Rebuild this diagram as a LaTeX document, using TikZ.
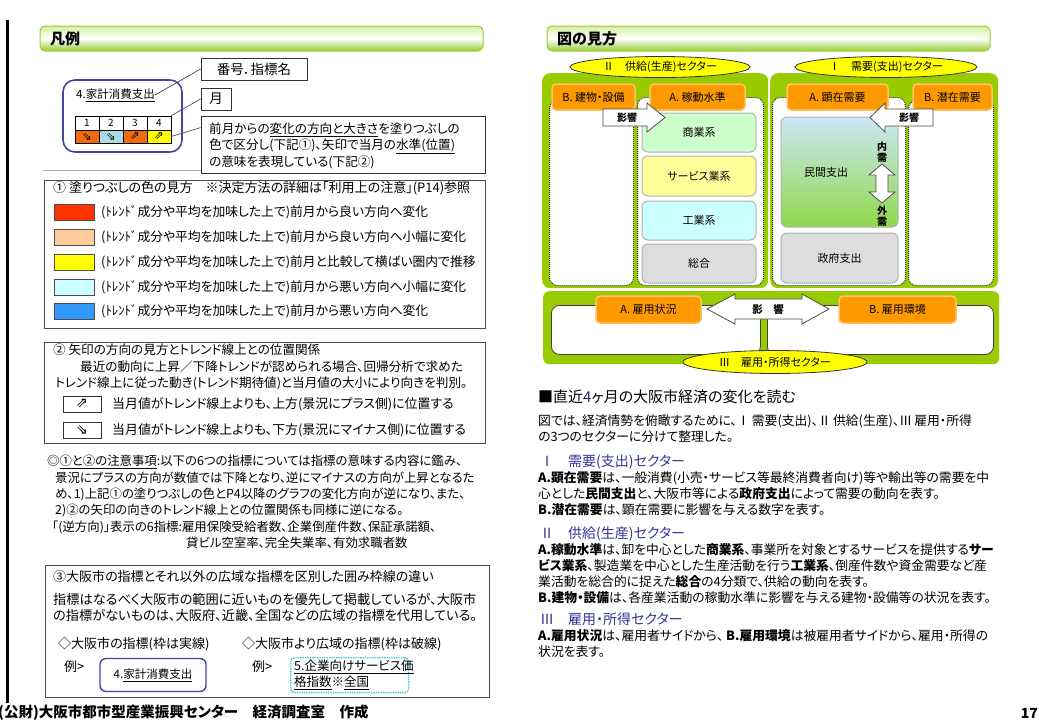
\documentclass[tikz,border=0pt]{standalone}
\usepackage{fontspec}
\setmainfont[RawFeature=+palt]{Noto Sans CJK JP}
\newfontfamily\dv{DejaVu Sans}
\usetikzlibrary{calc,shapes.geometric}
\newcommand\fsz[1]{\fontsize{#1}{#1}\selectfont}
\definecolor{grn}{HTML}{99CC00}
\definecolor{org}{HTML}{FF9900}
\definecolor{orgb}{HTML}{FFC266}
\definecolor{yel}{HTML}{FFFF00}
\definecolor{hdrtop}{HTML}{D6EEA0}
\definecolor{hdrbot}{HTML}{99CC33}
\definecolor{indigo}{HTML}{4446A6}
\definecolor{cya}{HTML}{33CCCC}
\definecolor{hblue}{HTML}{33339A}
\definecolor{s1}{HTML}{FF3300}
\definecolor{s2}{HTML}{FFCC99}
\definecolor{s3}{HTML}{FFFF00}
\definecolor{s4}{HTML}{CCFFFF}
\definecolor{s5}{HTML}{3399FF}
\definecolor{c1}{HTML}{F26A10}
\definecolor{c2}{HTML}{ADD8E6}
\definecolor{gry}{HTML}{DDDDDD}
\definecolor{lg}{HTML}{CCFFCC}
\definecolor{ly}{HTML}{FFFF99}
\definecolor{lc}{HTML}{CCFFFF}
\definecolor{mtop}{HTML}{CCE6F7}
\definecolor{mbot}{HTML}{8FD94A}
\begin{document}
\begin{tikzpicture}[x=1pt,y=-1pt,
  t/.style={anchor=west,inner sep=0pt,font=\fsz{12.8}},
  tc/.style={inner sep=0pt,font=\fsz{12}},
  hdr/.style={draw=hdrbot,line width=1pt,rounded corners=5pt,top color=hdrtop,bottom color=hdrbot,middle color=white},
  lbox/.style={draw=black!80,line width=0.8pt,fill=white,inner sep=0pt},
  frame/.style={draw=black!70,line width=0.8pt,inner sep=0pt,anchor=north west},
  conn/.style={draw=black!70,line width=0.7pt},
  cell/.style={draw=black,line width=0.6pt,inner sep=0pt,minimum width=24pt,font=\fsz{10}},
  sw/.style={draw=black!70,line width=0.7pt,inner sep=0pt,minimum width=40pt,minimum height=16pt},
  gbig/.style={fill=grn,rounded corners=8pt,inner sep=0pt,anchor=north west},
  wdot/.style={fill=white,draw=black!80,densely dotted,line width=1pt,rounded corners=8pt,inner sep=0pt,anchor=north west},
  wsol/.style={fill=white,draw=black!75,line width=0.8pt,rounded corners=8pt,inner sep=0pt,anchor=north west},
  obox/.style={fill=org,draw=orgb,line width=1.5pt,rounded corners=4pt,inner sep=0pt,font=\fsz{11}},
  ibox/.style={draw=black!30,line width=1pt,rounded corners=6pt,inner sep=0pt,minimum width=114pt,font=\fsz{11}},
  ell/.style={ellipse,fill=yel,draw=black!80,line width=0.8pt,inner sep=0pt,font=\fsz{11}},
  arr/.style={fill=white,draw=black!70,line width=0.8pt},
  body/.style={anchor=west,inner sep=0pt,font=\fsz{12.8}},
  bhead/.style={anchor=west,inner sep=0pt,font=\fsz{14},text=hblue}
]
\useasboundingbox (0,0) rectangle (1039,721);
\fill[white] (0,0) rectangle (1039,721);
\draw[line width=3pt] (7,20) -- (7,703);

% ---------------- left page ----------------
\draw[hdr] (40,26) rectangle (483,51);
\node[t,font=\fsz{15}\bfseries] (hl) at (50,38.5) {凡例};

\draw[black!35,line width=1pt] (43,170) -- (485,170);

\node[draw=indigo,line width=1.6pt,rounded corners=12pt,minimum width=119pt,minimum height=72pt,inner sep=0pt] (sample) at (122.5,116) {};
\node[t,font=\fsz{11.5}] (stitle) at (76,95) {4.\underline{家計消費支出}};
\node[cell,minimum height=14pt] (n1) at (87,123) {1};
\node[cell,minimum height=14pt] (n2) at (111,123) {2};
\node[cell,minimum height=14pt] (n3) at (135,123) {3};
\node[cell,minimum height=14pt] (n4) at (159,123) {4};
\node[cell,minimum height=13pt,fill=c1] (d1) at (87,136.5) {\dv\fsz{11.5}⇘};
\node[cell,minimum height=13pt,fill=c2] (d2) at (111,136.5) {\dv\fsz{11.5}⇘};
\node[cell,minimum height=13pt,fill=c1] (d3) at (135,136.5) {\dv\fsz{11.5}⇗};
\node[cell,minimum height=13pt,fill=yel] (d4) at (159,136.5) {\dv\fsz{11.5}⇗};

\node[lbox,minimum width=106pt,minimum height=22pt,font=\fsz{13.5}] (bango) at (254,69) {番号．指標名};
\node[lbox,minimum width=30pt,minimum height=22pt,font=\fsz{13.5}] (tsuki) at (216,99) {月};
\node[lbox,minimum width=284pt,minimum height=57pt] (desc) at (343,144.5) {};
\node[t,font=\fsz{12.6}] (dl1) at (209,130) {前月からの\underline{変化の方向と大きさ}を塗りつぶしの};
\node[t,font=\fsz{12.6}] (dl2) at (209,146) {色で区分し(下記①)、矢印で当月の\underline{水準(位置)}};
\node[t,font=\fsz{12.6}] (dl3) at (209,162) {の意味を表現している(下記②)};
\draw[conn] (stitle.east) -- (bango.west);
\draw[conn] (n4.north east) -- (tsuki.west);
\draw[conn] (d4.east) -- ([yshift=-12pt]desc.north west);

% box 1
\node[frame,minimum width=441pt,minimum height=148pt] (box1) at (44,180) {};
\node[t,font=\fsz{13}] (b1t) at (53,188) {① 塗りつぶしの色の見方　※決定方法の詳細は「利用上の注意」(P14)参照};
\node[sw,fill=s1] (sw1) at (74,212) {};
\node[sw,fill=s2] (sw2) at (74,237) {};
\node[sw,fill=s3] (sw3) at (74,262) {};
\node[sw,fill=s4] (sw4) at (74,287) {};
\node[sw,fill=s5] (sw5) at (74,311) {};
\node[t] (sl1) at (101,212) {(ﾄﾚﾝﾄﾞ成分や平均を加味した上で)前月から良い方向へ変化};
\node[t] (sl2) at (101,237) {(ﾄﾚﾝﾄﾞ成分や平均を加味した上で)前月から良い方向へ小幅に変化};
\node[t] (sl3) at (101,262) {(ﾄﾚﾝﾄﾞ成分や平均を加味した上で)前月と比較して横ばい圏内で推移};
\node[t] (sl4) at (101,287) {(ﾄﾚﾝﾄﾞ成分や平均を加味した上で)前月から悪い方向へ小幅に変化};
\node[t] (sl5) at (101,311) {(ﾄﾚﾝﾄﾞ成分や平均を加味した上で)前月から悪い方向へ変化};

% box 2
\node[frame,minimum width=441pt,minimum height=101pt] (box2) at (44,342) {};
\node[t,font=\fsz{12.6}] (b2t) at (53,350) {② 矢印の方向の見方とトレンド線上との位置関係};
\node[t,font=\fsz{12.6}] (b2l1) at (80,367) {最近の動向に上昇／下降トレンドが認められる場合、回帰分析で求めた};
\node[t,font=\fsz{12.6}] (b2l2) at (55,383) {トレンド線上に従った動き(トレンド期待値)と当月値の大小により向きを判別。};
\node[draw=black!80,line width=0.8pt,minimum width=38pt,minimum height=16pt,inner sep=0pt] (ab1) at (82,404) {\dv\fsz{14}⇗};
\node[draw=black!80,line width=0.8pt,minimum width=38pt,minimum height=16pt,inner sep=0pt] (ab2) at (82,430) {\dv\fsz{14}⇘};
\node[t,font=\fsz{12.9}] (ar1) at (112,404) {当月値がトレンド線上よりも、上方(景況にプラス側)に位置する};
\node[t,font=\fsz{12.9}] (ar2) at (112,430) {当月値がトレンド線上よりも、下方(景況にマイナス側)に位置する};

% notes
\node[t,font=\fsz{12.4}] (nt1) at (47,462) {◎\underline{①と②の注意事項}:以下の6つの指標については指標の意味する内容に鑑み、};
\node[t,font=\fsz{12.4}] (nt2) at (55,478) {景況にプラスの方向が数値では下降となり、逆にマイナスの方向が上昇となるた};
\node[t,font=\fsz{12.4}] (nt3) at (55,494) {め、1)上記①の塗りつぶしの色とP4以降のグラフの変化方向が逆になり、また、};
\node[t,font=\fsz{12.4}] (nt4) at (55,510) {2)②の矢印の向きのトレンド線上との位置関係も同様に逆になる。};
\node[t,font=\fsz{12.4}] (nt5) at (52,527) {「(逆方向)」表示の6指標:雇用保険受給者数、企業倒産件数、保証承諾額、};
\node[t,font=\fsz{12.4}] (nt6) at (186,543) {貸ビル空室率、完全失業率、有効求職者数};

% box 3
\node[frame,minimum width=444pt,minimum height=132pt] (box3) at (45,565) {};
\node[t,font=\fsz{13}] (b3t) at (53,577) {③大阪市の指標とそれ以外の広域な指標を区別した囲み枠線の違い};
\node[t,font=\fsz{13.2}] (b3l1) at (53,599) {指標はなるべく大阪市の範囲に近いものを優先して掲載しているが、大阪市};
\node[t,font=\fsz{13.2}] (b3l2) at (53,615) {の指標がないものは、大阪府、近畿、全国などの広域の指標を代用している。};
\node[t,font=\fsz{13}] (b3a) at (58,644) {◇大阪市の指標(枠は実線)};
\node[t,font=\fsz{13}] (b3b) at (242,644) {◇大阪市より広域の指標(枠は破線)};
\node[t,font=\fsz{13}] (ex1) at (64,667) {例>};
\node[t,font=\fsz{13}] (ex2) at (252,667) {例>};
\node[draw=indigo,line width=1.4pt,rounded corners=6pt,minimum width=106pt,minimum height=33pt,inner sep=0pt,font=\fsz{11.5}] (exb1) at (153,675) {4.\underline{家計消費支出}};
\node[draw=cya,densely dotted,line width=1.4pt,rounded corners=4pt,minimum width=118pt,minimum height=35pt,inner sep=0pt,anchor=north west] (exb2) at (290,657) {};
\node[t,font=\fsz{12.5}] (exl1) at (294,667) {\underline{5.企業向けサービス価}};
\node[t,font=\fsz{12.5}] (exl2) at (294,683) {\underline{格指数}※\underline{全国}};

\node[t,font=\fsz{14.5}\bfseries] (footer) at (-2,713) {(公財)大阪市都市型産業振興センター　経済調査室　作成};
\node[anchor=east,inner sep=0pt,font=\fsz{14}\bfseries] (pg) at (1038,713) {17};

% ---------------- right page ----------------
\draw[hdr] (547,26) rectangle (990,51);
\node[t,font=\fsz{15}\bfseries] (hr) at (557,38.5) {図の見方};

\node[gbig,minimum width=226pt,minimum height=215pt] (gl) at (542,73) {};
\node[gbig,minimum width=228pt,minimum height=215pt] (gr) at (770,73) {};
\node[wdot,minimum width=84pt,minimum height=185pt] (wb) at (549,100) {};
\node[wdot,minimum width=126pt,minimum height=188pt] (wa) at (637,97) {};
\node[wdot,minimum width=133pt,minimum height=188pt] (wra) at (772,97) {};
\node[wdot,minimum width=85pt,minimum height=185pt] (wrb) at (908,100) {};

\node[obox,minimum width=83pt,minimum height=26pt] (ob1) at (593.5,97) {B. 建物・設備};
\node[obox,minimum width=95pt,minimum height=26pt] (oa1) at (697.5,97) {A. 稼動水準};
\node[obox,minimum width=101pt,minimum height=26pt] (oa2) at (837.5,97) {A. 顕在需要};
\node[obox,minimum width=79pt,minimum height=26pt] (ob2) at (952.5,97) {B. 潜在需要};

\node[ibox,fill=lg,minimum height=39pt] (shogyo) at (699,132.5) {商業系};
\node[ibox,fill=ly,minimum height=40pt] (service) at (699,176) {サービス業系};
\node[ibox,fill=lc,minimum height=39pt] (kogyo) at (699,220.5) {工業系};
\node[ibox,fill=gry,minimum height=39pt] (sogo) at (699,263.5) {総合};

\shade[top color=mtop,bottom color=mbot,rounded corners=6pt] (781,117) rectangle (898,227);
\draw[black!30,line width=1pt,rounded corners=6pt] (781,117) rectangle (898,227);
\node[tc,font=\fsz{11}] (minkan) at (826,172) {民間支出};
\node[ibox,fill=gry,minimum width=117pt,minimum height=50pt] (seifu) at (839.5,258) {政府支出};
\draw[arr] (882,164) -- (895,175) -- (888,175) -- (888,192) -- (895,192) -- (882,203) -- (869,192) -- (876,192) -- (876,175) -- (869,175) -- cycle;
\node[tc,font=\fsz{10}\bfseries] (nai1) at (882,147) {内};
\node[tc,font=\fsz{10}\bfseries] (nai2) at (882,158) {需};
\node[tc,font=\fsz{10}\bfseries] (gai1) at (882,211) {外};
\node[tc,font=\fsz{10}\bfseries] (gai2) at (882,222) {需};

\draw[arr] (603,109) -- (647,109) -- (647,103) -- (665,117.5) -- (647,132) -- (647,126) -- (603,126) -- cycle;
\node[tc,font=\fsz{10}\bfseries] (eik1) at (627,117.5) {影響};
\draw[arr] (933,109) -- (885,109) -- (885,103) -- (870,117.5) -- (885,132) -- (885,126) -- (933,126) -- cycle;
\node[tc,font=\fsz{10}\bfseries] (eik2) at (909,117.5) {影響};

\node[ell,minimum width=180pt,minimum height=21pt] (e2) at (660,67) {Ⅱ　供給(生産)セクター};
\node[ell,minimum width=182pt,minimum height=21pt] (e1) at (886,67) {Ⅰ　需要(支出)セクター};

% bottom sector
\node[gbig,rounded corners=6pt,minimum width=456pt,minimum height=73pt] (gb) at (543,291) {};
\node[wsol,minimum width=209pt,minimum height=49pt] (wbl) at (551,305) {};
\node[wsol,minimum width=226pt,minimum height=49pt] (wbr) at (767,305) {};
\node[obox,minimum width=105pt,minimum height=27pt] (oy1) at (648.5,309.5) {A. 雇用状況};
\node[obox,minimum width=117pt,minimum height=27pt] (oy2) at (897.5,309.5) {B. 雇用環境};
\draw[arr] (707,309) -- (735,294) -- (735,299) -- (802,299) -- (802,294) -- (829,309) -- (802,324) -- (802,319) -- (735,319) -- (735,324) -- cycle;
\node[tc,font=\fsz{10.5}\bfseries] (eik3) at (768,309) {影　響};
\node[ell,minimum width=184pt,minimum height=23pt] (e3) at (775,362) {Ⅲ　雇用・所得セクター};

% text
\node[anchor=west,inner sep=0pt,font=\fsz{15}] (rt) at (538,397) {■直近{\color{hblue!70!black}4}ヶ月の大阪市経済の変化を読む};
\node[body] (p1) at (538,421) {図では、経済情勢を俯瞰するために、Ⅰ\,需要(支出)、Ⅱ\,供給(生産)、Ⅲ\,雇用・所得};
\node[body] (p2) at (538,437) {の3つのセクターに分けて整理した。};
\node[bhead] (h1) at (540,462) {Ⅰ　需要(支出)セクター};
\node[body] (q1) at (538,478) {\textbf{A.顕在需要}は、一般消費(小売・サービス等最終消費者向け)等や輸出等の需要を中};
\node[body] (q2) at (538,494) {心とした\textbf{民間支出}と、大阪市等による\textbf{政府支出}によって需要の動向を表す。};
\node[body] (q3) at (538,510) {\textbf{B.潜在需要}は、顕在需要に影響を与える数字を表す。};
\node[bhead] (h2) at (540,534) {Ⅱ　供給(生産)セクター};
\node[body] (r1) at (538,550) {\textbf{A.稼動水準}は、卸を中心とした\textbf{商業系}、事業所を対象とするサービスを提供する\textbf{サー}};
\node[body] (r2) at (538,566) {\textbf{ビス業系}、製造業を中心とした生産活動を行う\textbf{工業系}、倒産件数や資金需要など産};
\node[body] (r3) at (538,582) {業活動を総合的に捉えた\textbf{総合}の4分類で、供給の動向を表す。};
\node[body] (r4) at (538,598) {\textbf{B.建物・設備}は、各産業活動の稼動水準に影響を与える建物・設備等の状況を表す。};
\node[bhead] (h3) at (540,619) {Ⅲ　雇用・所得セクター};
\node[body] (s1l) at (538,636) {\textbf{A.雇用状況}は、雇用者サイドから、 \textbf{B.雇用環境}は被雇用者サイドから、雇用・所得の};
\node[body] (s2l) at (538,652) {状況を表す。};
\end{tikzpicture}
\end{document}
